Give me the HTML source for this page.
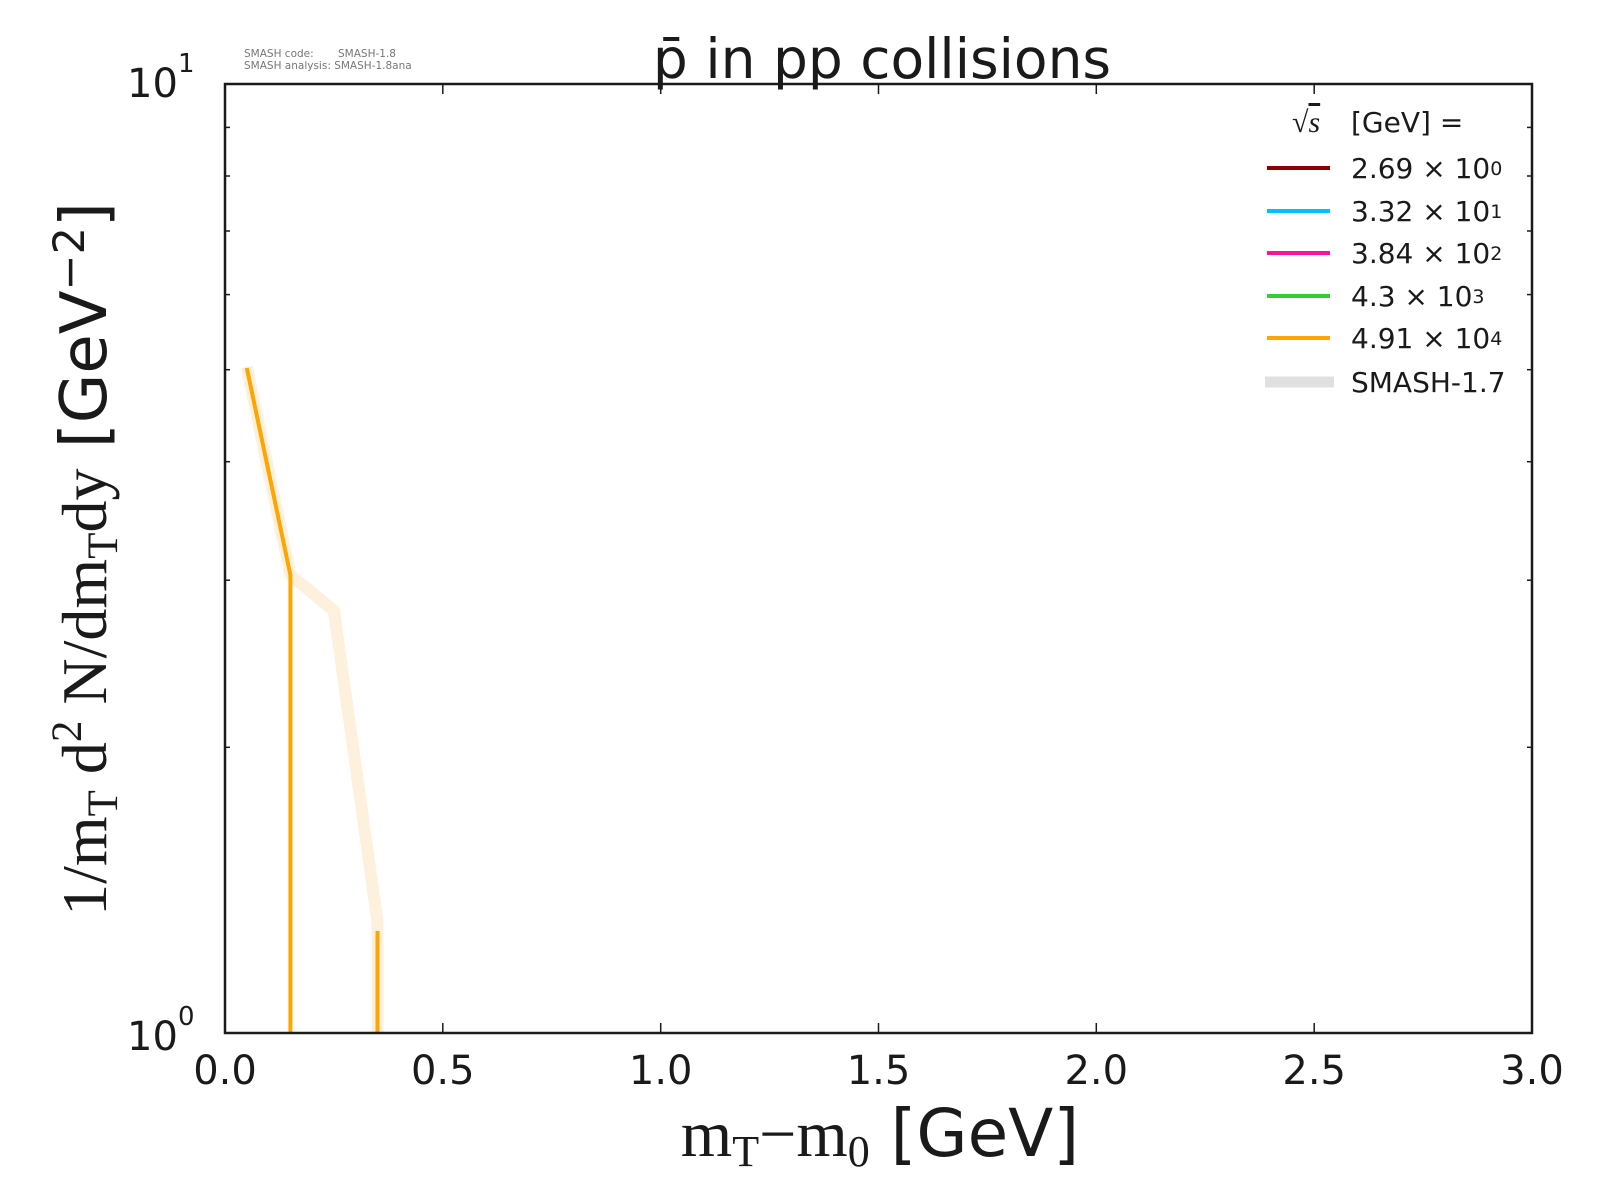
<!DOCTYPE html>
<html><head><meta charset="utf-8"><style>body{margin:0;background:#fff}svg{display:block}</style></head>
<body>
<svg width="1600" height="1200" viewBox="0 0 1600 1200" xmlns="http://www.w3.org/2000/svg" font-family="DejaVu Sans, Liberation Sans, sans-serif">
<rect width="1600" height="1200" fill="#fff"/>
<g font-size="10.5" fill="#777">
<text x="244" y="57">SMASH code:</text><text x="338" y="57">SMASH-1.8</text>
<text x="244" y="69">SMASH analysis: SMASH-1.8ana</text>
</g>
<text x="882" y="78" font-size="55" text-anchor="middle" fill="#1a1a1a">p̄ in pp collisions</text>
<polyline points="246.8,367 290.4,575 333.9,610.6 377.5,922 377.5,1033" fill="none" stroke="#fdf0dc" stroke-width="12" stroke-linejoin="miter"/>
<polyline points="246.8,368 290.4,575 290.4,1033" fill="none" stroke="#ffa500" stroke-width="4"/>
<line x1="377.5" y1="931" x2="377.5" y2="1033" stroke="#ffa500" stroke-width="4"/>
<rect x="225" y="84" width="1307" height="949" fill="none" stroke="#1a1a1a" stroke-width="2.5"/>
<g stroke="#1a1a1a" stroke-width="1.5">
<line x1="442.8" y1="1033" x2="442.8" y2="1023"/><line x1="442.8" y1="84" x2="442.8" y2="94"/>
<line x1="660.7" y1="1033" x2="660.7" y2="1023"/><line x1="660.7" y1="84" x2="660.7" y2="94"/>
<line x1="878.5" y1="1033" x2="878.5" y2="1023"/><line x1="878.5" y1="84" x2="878.5" y2="94"/>
<line x1="1096.3" y1="1033" x2="1096.3" y2="1023"/><line x1="1096.3" y1="84" x2="1096.3" y2="94"/>
<line x1="1314.2" y1="1033" x2="1314.2" y2="1023"/><line x1="1314.2" y1="84" x2="1314.2" y2="94"/>
<line x1="225" y1="747.3" x2="230" y2="747.3"/><line x1="1532" y1="747.3" x2="1527" y2="747.3"/>
<line x1="225" y1="580.2" x2="230" y2="580.2"/><line x1="1532" y1="580.2" x2="1527" y2="580.2"/>
<line x1="225" y1="461.7" x2="230" y2="461.7"/><line x1="1532" y1="461.7" x2="1527" y2="461.7"/>
<line x1="225" y1="369.7" x2="230" y2="369.7"/><line x1="1532" y1="369.7" x2="1527" y2="369.7"/>
<line x1="225" y1="294.6" x2="230" y2="294.6"/><line x1="1532" y1="294.6" x2="1527" y2="294.6"/>
<line x1="225" y1="231.0" x2="230" y2="231.0"/><line x1="1532" y1="231.0" x2="1527" y2="231.0"/>
<line x1="225" y1="176.0" x2="230" y2="176.0"/><line x1="1532" y1="176.0" x2="1527" y2="176.0"/>
<line x1="225" y1="127.4" x2="230" y2="127.4"/><line x1="1532" y1="127.4" x2="1527" y2="127.4"/>
</g>
<g font-size="40" fill="#1a1a1a" text-anchor="middle">
<text x="225" y="1084">0.0</text><text x="442.8" y="1084">0.5</text><text x="660.7" y="1084">1.0</text>
<text x="878.5" y="1084">1.5</text><text x="1096.3" y="1084">2.0</text><text x="1314.2" y="1084">2.5</text><text x="1532" y="1084">3.0</text>
</g>
<g font-size="40" fill="#1a1a1a">
<text x="127" y="1050">10</text><text x="178" y="1025" font-size="26">0</text>
<text x="127" y="97">10</text><text x="178" y="72" font-size="26">1</text>
</g>
<text x="880" y="1156" font-size="66" text-anchor="middle" fill="#1a1a1a"><tspan font-family="Liberation Serif, serif">m<tspan font-size="44" dy="10">T</tspan><tspan dy="-10">−m</tspan><tspan font-size="44" dy="10">0</tspan></tspan><tspan dy="-10"> [GeV]</tspan></text>
<text transform="translate(106,559) rotate(-90)" font-size="64" text-anchor="middle" fill="#1a1a1a"><tspan font-family="Liberation Serif, serif">1/m<tspan font-size="43" dy="11">T</tspan><tspan dy="-11"> d</tspan><tspan font-size="43" dy="-25">2</tspan><tspan dy="25"> N/dm</tspan><tspan font-size="43" dy="11">T</tspan><tspan dy="-11">dy</tspan></tspan><tspan> [GeV</tspan><tspan font-size="43" dy="-22">−2</tspan><tspan dy="22">]</tspan></text>
<g font-size="28" fill="#1a1a1a">
<text x="1292" y="132" font-family="Liberation Serif, serif" font-size="30">√<tspan text-decoration="overline" font-style="italic">s</tspan></text>
<text x="1351" y="132">[GeV] =</text>
<line x1="1267" y1="168" x2="1330" y2="168" stroke="#8b0000" stroke-width="4"/><text x="1351" y="178">2.69 × 10<tspan font-size="19" dy="-3">0</tspan></text>
<line x1="1267" y1="211" x2="1330" y2="211" stroke="#00bfff" stroke-width="4"/><text x="1351" y="221">3.32 × 10<tspan font-size="19" dy="-3">1</tspan></text>
<line x1="1267" y1="253" x2="1330" y2="253" stroke="#ff1493" stroke-width="4"/><text x="1351" y="263">3.84 × 10<tspan font-size="19" dy="-3">2</tspan></text>
<line x1="1267" y1="296" x2="1330" y2="296" stroke="#32cd32" stroke-width="4"/><text x="1351" y="306">4.3 × 10<tspan font-size="19" dy="-3">3</tspan></text>
<line x1="1267" y1="338" x2="1330" y2="338" stroke="#ffa500" stroke-width="4"/><text x="1351" y="348">4.91 × 10<tspan font-size="19" dy="-3">4</tspan></text>
<line x1="1265" y1="382" x2="1334" y2="382" stroke="#e0e0e0" stroke-width="11"/><text x="1351" y="392">SMASH-1.7</text>
</g>
</svg>
</body></html>
